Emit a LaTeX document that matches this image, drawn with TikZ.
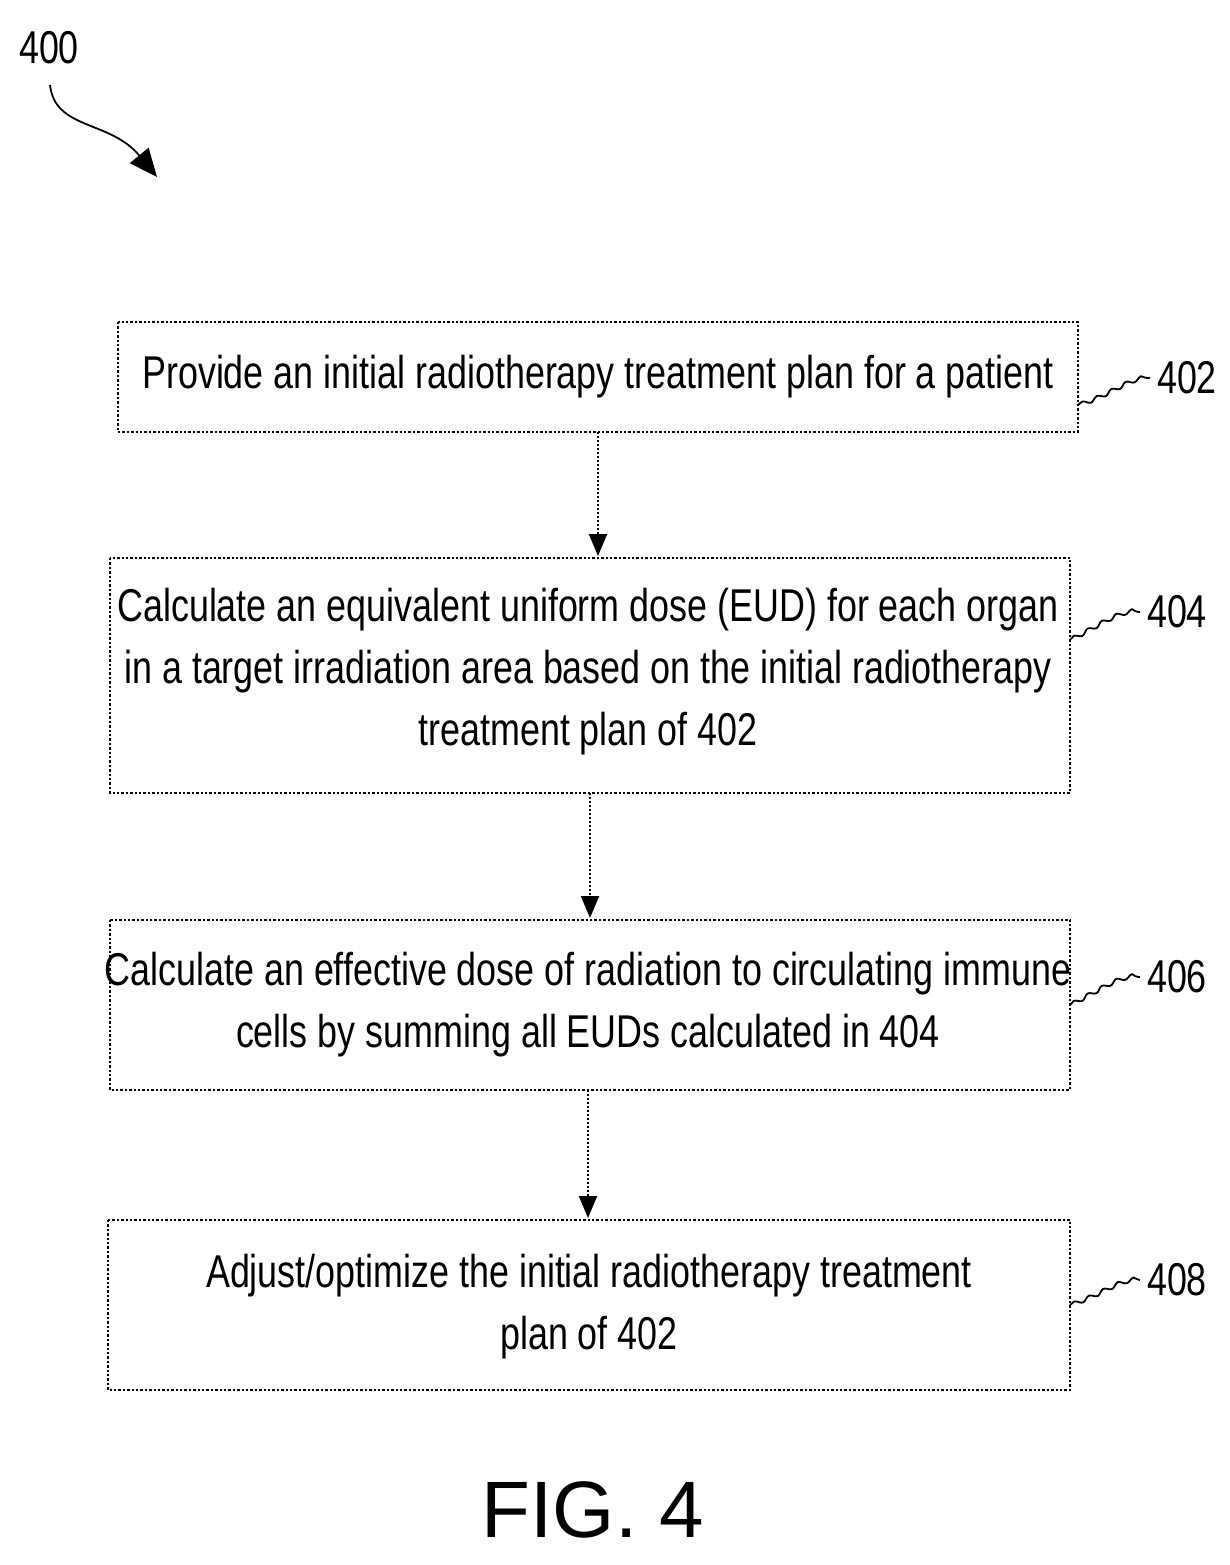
\documentclass[tikz,border=0pt]{standalone}
\usepackage{fontspec}
\setmainfont[FakeStretch=0.78]{Liberation Sans}
\newfontfamily\figfont{Liberation Sans}
\usetikzlibrary{decorations.pathmorphing,arrows.meta}
\begin{document}
\begin{tikzpicture}[x=0.5pt,y=-0.5pt,
 box/.style={draw,line width=1.2pt,densely dotted},
 txt/.style={align=center,font=\fontsize{23}{31}\selectfont},
 arr/.style={line width=1pt,densely dotted,-{Triangle[length=11pt,width=9pt]}},
 sq/.style={line width=0.9pt,decorate,decoration={snake,amplitude=1pt,segment length=8pt}},
 lab/.style={font=\fontsize{23}{26}\selectfont,anchor=west}]
\useasboundingbox (0,0) rectangle (1230,1565);
\draw[box] (118,322) rectangle (1078,432);
\node[txt] (b1) at (598,377) {Provide an initial radiotherapy treatment plan for a patient};
\draw[box] (110,558) rectangle (1070,793);
\node[txt] (b2) at (588,672) {Calculate an equivalent uniform dose (EUD) for each organ\\in a target irradiation area based on the initial radiotherapy\\treatment plan of 402};
\draw[box] (110,920) rectangle (1070,1090);
\node[txt] (b3) at (588,1005) {Calculate an effective dose of radiation to circulating immune\\cells by summing all EUDs calculated in 404};
\draw[box] (108,1220) rectangle (1070,1390);
\node[txt] (b4) at (589,1307) {Adjust/optimize the initial radiotherapy treatment\\plan of 402};
\coordinate (a1s) at (598,432); \coordinate (a1e) at (598,556);
\coordinate (a2s) at (590,793); \coordinate (a2e) at (590,918);
\coordinate (a3s) at (588,1090); \coordinate (a3e) at (588,1218);
\draw[arr] (a1s) -- (a1e);
\draw[arr] (a2s) -- (a2e);
\draw[arr] (a3s) -- (a3e);
\node[lab] (l402) at (1150,378) {402};
\node[lab] (l404) at (1140,612) {404};
\node[lab] (l406) at (1140,977) {406};
\node[lab] (l408) at (1140,1280) {408};
\node[lab] (l400) at (12,48) {400};
\coordinate (c402) at (1078,405); \coordinate (c404) at (1070,640);
\coordinate (c406) at (1070,1005); \coordinate (c408) at (1070,1305);
\draw[sq] (c402) .. controls (1110,395) and (1125,378) .. (l402.west);
\draw[sq] (c404) .. controls (1100,625) and (1115,612) .. (l404.west);
\draw[sq] (c406) .. controls (1100,990) and (1115,977) .. (l406.west);
\draw[sq] (c408) .. controls (1100,1295) and (1115,1280) .. (l408.west);
\coordinate (s400) at (50,85); \coordinate (e400) at (157,177);
\draw[line width=0.9pt,-{Triangle[length=14pt,width=12pt]}] (s400) .. controls (55,130) and (110,120) .. (e400);
\node[font=\figfont\fontsize{40}{46}\selectfont] (fig) at (593,1510) {FIG. 4};
\end{tikzpicture}
\end{document}
